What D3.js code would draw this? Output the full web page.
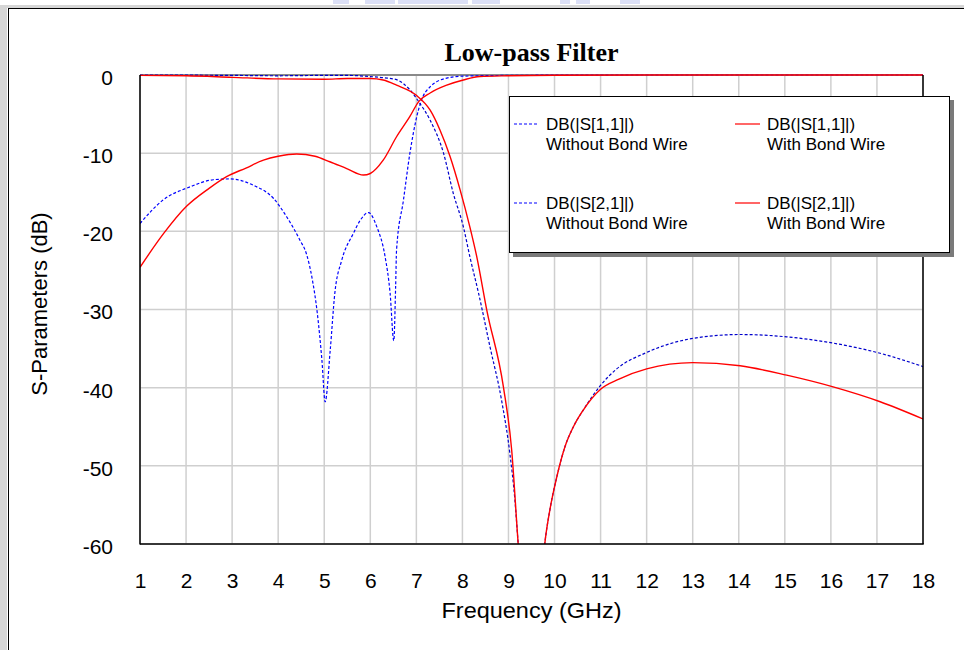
<!DOCTYPE html>
<html>
<head>
<meta charset="utf-8">
<script src="https://cdn.jsdelivr.net/npm/d3@7"></script>
<style>
  html, body { margin: 0; padding: 0; background: #ffffff; }
  svg { display: block; }
</style>
</head>
<body>
<svg id="chart" width="964" height="650"></svg>
<script>
// ---------------- DATA ----------------
const chartTitle = "Low-pass Filter";
const xTicks = [1,2,3,4,5,6,7,8,9,10,11,12,13,14,15,16,17,18];
const yTicks = [0,-10,-20,-30,-40,-50,-60];

// DB(|S[1,1]|) Without Bond Wire
const freqS11Without = [1,1.5,2.09,2.59,2.95,3.46,3.9,4.18,4.47,4.62,4.73,4.85,4.95,5.02,5.13,5.23,5.38,5.63,5.78,5.96,6.14,6.32,6.43,6.51,6.55,6.57,6.72,6.86,7.01,7.1,7.3,7.66,8.0,9,10,12,14,16,18];
const s11Without     = [-19.0,-16.0,-14.3,-13.4,-13.3,-14.1,-15.8,-18.1,-21.1,-23.0,-25.8,-30.5,-36.5,-41.8,-35.2,-27.9,-23.7,-20.3,-18.6,-17.6,-19.4,-23.2,-27.9,-34.0,-27.1,-22.4,-16.0,-10.0,-5.3,-3.4,-1.5,-0.4,-0.15,-0.05,-0.02,0,0,0,0];

// DB(|S[2,1]|) Without Bond Wire
const freqS21Without = [1,2,3,4,5,5.5,6,6.3,6.57,6.86,7.05,7.3,7.59,7.8,8.02,8.16,8.35,8.6,8.85,9.03,9.14,9.21,9.35,9.5,9.65,9.79,9.9,10.05,10.23,10.41,10.62,11.0,11.35,12.0,13.0,14.03,15.04,16.05,17.07,18];
const s21Without     = [0,-0.02,-0.05,-0.1,-0.05,-0.05,-0.2,-0.35,-0.6,-1.9,-3.4,-5.8,-10.0,-15.1,-19.4,-23.2,-27.9,-34.8,-41.6,-48.4,-54.4,-59.9,-70,-75,-70,-59.9,-55.6,-51.4,-47.5,-45.0,-42.9,-39.7,-37.6,-35.5,-33.7,-33.2,-33.5,-34.3,-35.6,-37.3];

// DB(|S[1,1]|) With Bond Wire
const freqS11With = [1,1.51,2.01,2.5,2.88,3.3,3.68,4.0,4.4,4.8,5.12,5.5,5.85,6.0,6.28,6.57,6.86,7.05,7.3,7.66,8.02,8.38,9,10,12,14,16,18];
const s11With     = [-24.6,-20.3,-16.8,-14.5,-13.0,-11.9,-10.9,-10.4,-10.1,-10.4,-11.1,-12.0,-12.8,-12.6,-10.9,-7.9,-5.3,-3.4,-2.3,-1.3,-0.64,-0.2,-0.1,-0.03,0,0,0,0];

// DB(|S[2,1]|) With Bond Wire
const freqS21With = [1,2,3,4,5,5.5,6,6.28,6.57,7.0,7.3,7.51,7.73,7.95,8.16,8.31,8.53,8.89,9.07,9.21,9.35,9.5,9.65,9.79,9.9,10.05,10.23,10.41,10.62,11.0,11.4,12.0,13.0,14.03,15.04,16.05,17.07,18];
const s21With     = [-0.05,-0.1,-0.3,-0.5,-0.55,-0.45,-0.45,-0.64,-1.3,-2.6,-4.5,-7.0,-10.4,-14.7,-19.4,-23.2,-30.1,-39.9,-48.0,-59.9,-70,-75,-70,-59.9,-55.6,-51.4,-47.5,-45.0,-42.9,-40.2,-38.9,-37.6,-36.8,-37.2,-38.4,-39.9,-41.8,-44.0];

const legendNames = ["DB(|S[1,1]|)", "DB(|S[1,1]|)", "DB(|S[2,1]|)", "DB(|S[2,1]|)"];
const legendSubs  = ["Without Bond Wire", "With Bond Wire", "Without Bond Wire", "With Bond Wire"];
const xLabel = "Frequency (GHz)";
const yLabel = "S-Parameters (dB)";

// ---------------- DRAW ----------------
const svg = d3.select("#chart");
const W = 964, H = 650;
const plot = { left: 140, right: 923, top: 75, bottom: 544 };

const x = d3.scaleLinear().domain([1, 18]).range([plot.left, plot.right]);
const y = d3.scaleLinear().domain([-60, 0]).range([plot.bottom, plot.top]);

// window-like frame
svg.append("rect").attr("x", 0).attr("y", 0).attr("width", W).attr("height", H).attr("fill", "#ffffff");
svg.append("rect").attr("x", 0).attr("y", 5).attr("width", W).attr("height", 3).attr("fill", "#d6d6d6");
svg.append("rect").attr("x", 0).attr("y", 5).attr("width", 7).attr("height", H - 5).attr("fill", "#d6d6d6");
svg.append("line").attr("x1", 8.5).attr("x2", 8.5).attr("y1", 8).attr("y2", H).attr("stroke", "#000").attr("stroke-width", 1);
svg.append("line").attr("x1", 8).attr("x2", W).attr("y1", 8.5).attr("y2", 8.5).attr("stroke", "#000").attr("stroke-width", 1);

// faint watermark at top
const wm = [[333,16],[365,30],[398,70],[472,28],[560,10],[576,14],[620,20]];
svg.append("g").selectAll("rect").data(wm).join("rect")
  .attr("x", d => d[0]).attr("y", 0).attr("width", d => d[1]).attr("height", 4)
  .attr("fill", "#c4ccf0").attr("opacity", 0.6);

// grid
const grid = svg.append("g");
grid.selectAll("line.vx").data(xTicks).join("line")
  .attr("x1", d => x(d)).attr("x2", d => x(d))
  .attr("y1", plot.top).attr("y2", plot.bottom)
  .attr("stroke", "#cfcfcf").attr("stroke-width", 1.5);
grid.selectAll("line.hy").data(yTicks).join("line")
  .attr("x1", plot.left).attr("x2", plot.right)
  .attr("y1", d => y(d)).attr("y2", d => y(d))
  .attr("stroke", "#cfcfcf").attr("stroke-width", 1.5);

// axes (labels only, via d3 axes)
const fmt = d => String(d);
const xAxis = d3.axisBottom(x).tickValues(xTicks).tickSize(0).tickPadding(0).tickFormat(fmt);
const gx = svg.append("g").attr("transform", `translate(0,${plot.bottom})`).call(xAxis);
gx.select(".domain").remove();
gx.selectAll("text").attr("font-family", "Arial, 'Liberation Sans', sans-serif")
  .attr("font-size", 21).attr("fill", "#000").attr("dy", null).attr("y", 44);

const yAxis = d3.axisLeft(y).tickValues(yTicks).tickSize(0).tickPadding(0).tickFormat(fmt);
const gy = svg.append("g").attr("transform", `translate(${plot.left},0)`).call(yAxis);
gy.select(".domain").remove();
gy.selectAll("text").attr("font-family", "Arial, 'Liberation Sans', sans-serif")
  .attr("font-size", 21).attr("fill", "#000").attr("x", -27).attr("dy", "0.45em").attr("text-anchor", "end");

// clip
svg.append("clipPath").attr("id", "clip").append("rect")
  .attr("x", plot.left).attr("y", plot.top - 1).attr("width", plot.right - plot.left).attr("height", plot.bottom - plot.top + 1);

const line = d3.line().x(d => x(d[0])).y(d => y(d[1])).curve(d3.curveMonotoneX);
const zip = (a, b) => a.map((v, i) => [v, b[i]]);

// plot frame (top gray)
svg.append("line").attr("x1", plot.left).attr("x2", plot.right).attr("y1", plot.top).attr("y2", plot.top)
  .attr("stroke", "#8a8a8a").attr("stroke-width", 2);

const curves = svg.append("g").attr("clip-path", "url(#clip)");
const series = [
  { f: freqS11Without, v: s11Without, color: "#0000ff", dash: "3,2", w: 1.2 },
  { f: freqS21Without, v: s21Without, color: "#0000cc", dash: "3,2", w: 1.2 },
  { f: freqS11With, v: s11With, color: "#ff0000", dash: null, w: 1.4 },
  { f: freqS21With, v: s21With, color: "#ff0000", dash: null, w: 1.4 }
];
series.forEach(s => {
  curves.append("path").datum(zip(s.f, s.v))
    .attr("d", line).attr("fill", "none")
    .attr("stroke", s.color).attr("stroke-width", s.w)
    .attr("stroke-dasharray", s.dash);
});

// frame left/bottom/right black
svg.append("line").attr("x1", plot.left).attr("x2", plot.left).attr("y1", plot.top).attr("y2", plot.bottom + 0.5).attr("stroke", "#000").attr("stroke-width", 1.5);
svg.append("line").attr("x1", plot.left).attr("x2", plot.right + 0.75).attr("y1", plot.bottom).attr("y2", plot.bottom).attr("stroke", "#000").attr("stroke-width", 1.5);
svg.append("line").attr("x1", plot.right).attr("x2", plot.right).attr("y1", plot.top).attr("y2", plot.bottom).attr("stroke", "#000").attr("stroke-width", 1.5);

// title
svg.append("text").attr("x", (plot.left + plot.right) / 2).attr("y", 61)
  .attr("text-anchor", "middle").attr("font-family", "'Times New Roman', 'Liberation Serif', serif")
  .attr("font-weight", "bold").attr("font-size", 26).attr("fill", "#000").text(chartTitle);

// axis titles
svg.append("text").attr("x", (plot.left + plot.right) / 2).attr("y", 618)
  .attr("text-anchor", "middle").attr("font-family", "Arial, 'Liberation Sans', sans-serif")
  .attr("font-size", 22).attr("textLength", 180).attr("lengthAdjust", "spacingAndGlyphs")
  .attr("fill", "#000").text(xLabel);
svg.append("text").attr("transform", "translate(47,304) rotate(-90)")
  .attr("text-anchor", "middle").attr("font-family", "Arial, 'Liberation Sans', sans-serif")
  .attr("font-size", 22).attr("fill", "#000").text(yLabel);

// legend
const lg = svg.append("g");
lg.append("rect").attr("x", 513).attr("y", 100).attr("width", 441).attr("height", 157).attr("fill", "#7a7a7a");
lg.append("rect").attr("x", 509.5).attr("y", 96.5).attr("width", 440).attr("height", 156).attr("fill", "#ffffff").attr("stroke", "#000").attr("stroke-width", 1);

const legendPos = [[514, 124], [735, 124], [514, 203], [735, 203]];
const legendStyle = [series[0], series[2], series[1], series[3]];
legendPos.forEach((p, i) => {
  const s = legendStyle[i];
  lg.append("line").attr("x1", p[0]).attr("x2", p[0] + 25).attr("y1", p[1]).attr("y2", p[1])
    .attr("stroke", i === 2 ? "#0000ff" : s.color).attr("stroke-width", 1.2).attr("stroke-dasharray", s.dash);
  const t = lg.append("text").attr("font-family", "Arial, 'Liberation Sans', sans-serif")
    .attr("font-size", 17).attr("fill", "#000");
  t.append("tspan").attr("x", p[0] + 32).attr("y", p[1] + 5.5).text(legendNames[i]);
  t.append("tspan").attr("x", p[0] + 32).attr("y", p[1] + 26).text(legendSubs[i]);
});
</script>
</body>
</html>
